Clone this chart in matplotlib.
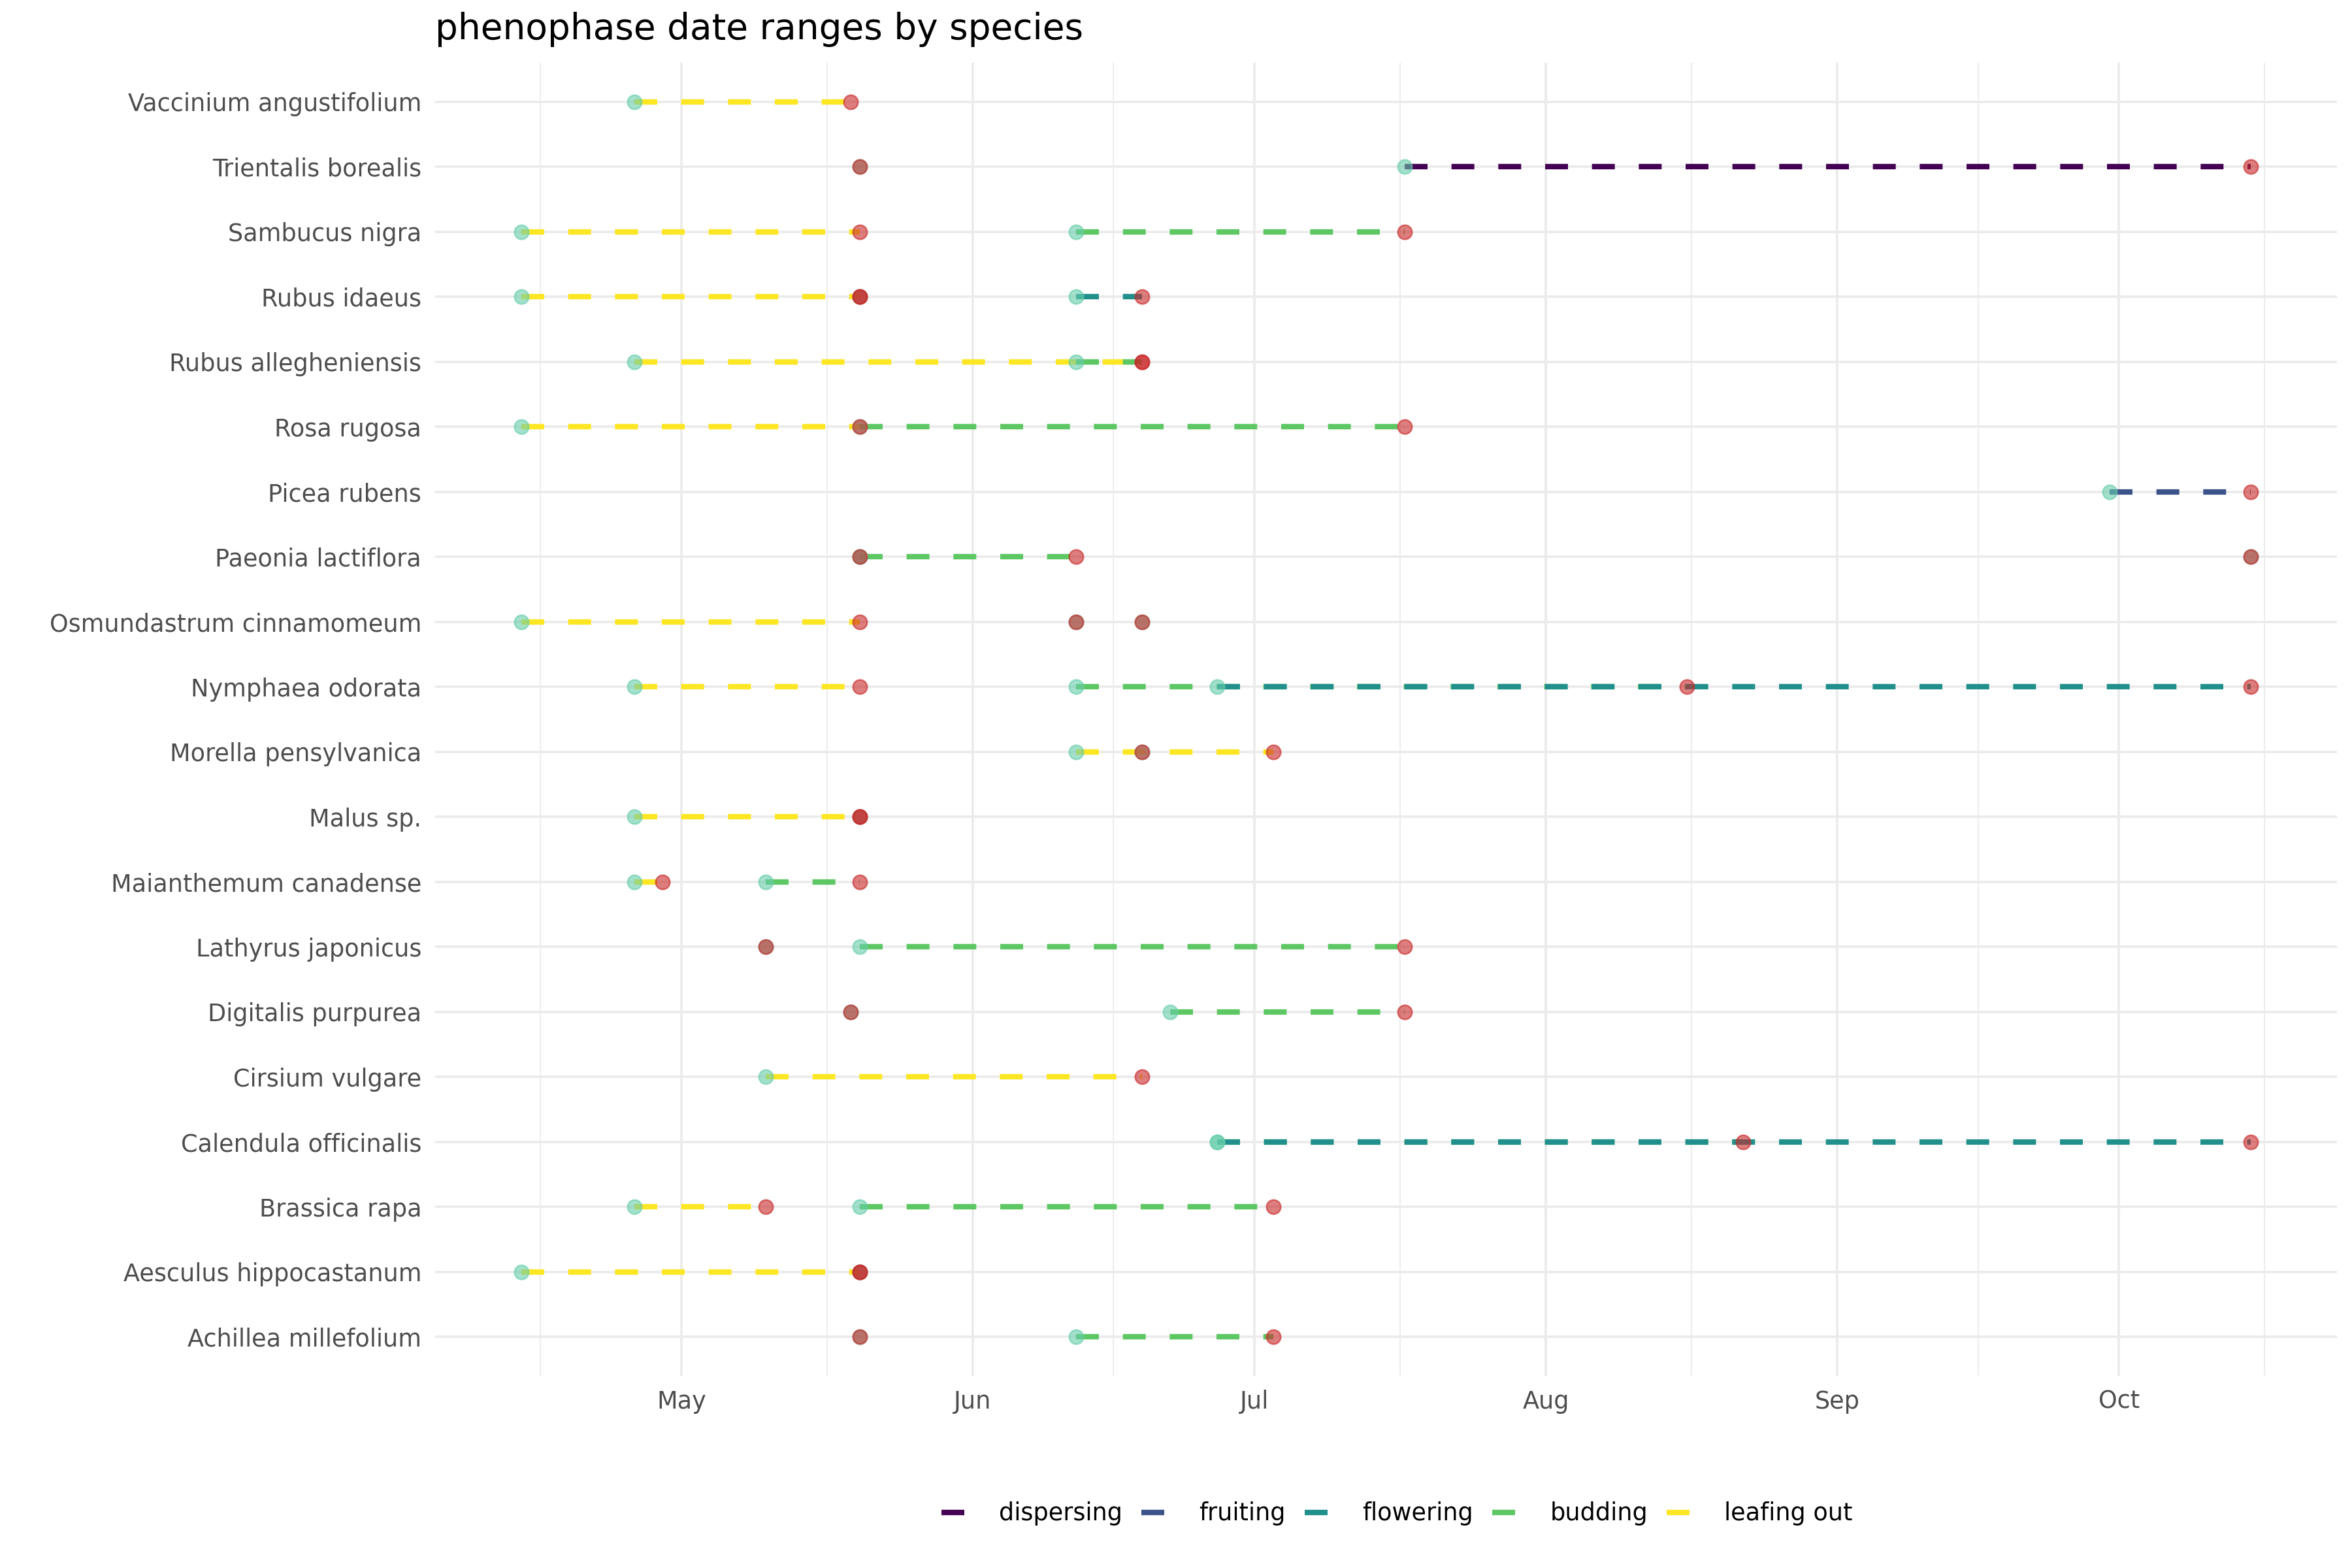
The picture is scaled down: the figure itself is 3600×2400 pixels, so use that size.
import datetime as dt
import numpy as np
import matplotlib
matplotlib.use("Agg")
import matplotlib.pyplot as plt
import matplotlib.dates as mdates
from matplotlib.lines import Line2D

# one record per phenophase observation
species = [
    "Achillea millefolium", "Achillea millefolium",
    "Aesculus hippocastanum", "Aesculus hippocastanum",
    "Brassica rapa", "Brassica rapa",
    "Calendula officinalis", "Calendula officinalis",
    "Cirsium vulgare",
    "Digitalis purpurea", "Digitalis purpurea",
    "Lathyrus japonicus", "Lathyrus japonicus",
    "Maianthemum canadense", "Maianthemum canadense",
    "Malus sp.", "Malus sp.",
    "Morella pensylvanica", "Morella pensylvanica",
    "Nymphaea odorata", "Nymphaea odorata", "Nymphaea odorata",
    "Osmundastrum cinnamomeum", "Osmundastrum cinnamomeum", "Osmundastrum cinnamomeum",
    "Paeonia lactiflora", "Paeonia lactiflora", "Paeonia lactiflora",
    "Picea rubens",
    "Rosa rugosa", "Rosa rugosa",
    "Rubus allegheniensis", "Rubus allegheniensis",
    "Rubus idaeus", "Rubus idaeus", "Rubus idaeus",
    "Sambucus nigra", "Sambucus nigra",
    "Trientalis borealis", "Trientalis borealis",
    "Vaccinium angustifolium",
]
phase = [
    "leafing out", "budding",
    "leafing out", "budding",
    "leafing out", "budding",
    "budding", "flowering",
    "leafing out",
    "leafing out", "budding",
    "leafing out", "budding",
    "leafing out", "budding",
    "leafing out", "budding",
    "leafing out", "budding",
    "leafing out", "budding", "flowering",
    "leafing out", "budding", "fruiting",
    "leafing out", "budding", "dispersing",
    "fruiting",
    "leafing out", "budding",
    "leafing out", "budding",
    "leafing out", "budding", "flowering",
    "leafing out", "budding",
    "leafing out", "dispersing",
    "leafing out",
]
start = [
    "05-20", "06-12",
    "04-14", "05-20",
    "04-26", "05-20",
    "06-27", "06-27",
    "05-10",
    "05-19", "06-22",
    "05-10", "05-20",
    "04-26", "05-10",
    "04-26", "05-20",
    "06-12", "06-19",
    "04-26", "06-12", "06-27",
    "04-14", "06-12", "06-19",
    "05-20", "05-20", "10-15",
    "09-30",
    "04-14", "05-20",
    "04-26", "06-12",
    "04-14", "05-20", "06-12",
    "04-14", "06-12",
    "05-20", "07-17",
    "04-26",
]
end = [
    "05-20", "07-03",
    "05-20", "05-20",
    "05-10", "07-03",
    "08-22", "10-15",
    "06-19",
    "05-19", "07-17",
    "05-10", "07-17",
    "04-29", "05-20",
    "05-20", "05-20",
    "07-03", "06-19",
    "05-20", "08-16", "10-15",
    "05-20", "06-12", "06-19",
    "05-20", "06-12", "10-15",
    "10-15",
    "05-20", "07-17",
    "06-19", "06-19",
    "05-20", "05-20", "06-19",
    "05-20", "07-17",
    "05-20", "10-15",
    "05-19",
]

phase_order = ["dispersing", "fruiting", "flowering", "budding", "leafing out"]
phase_colors = ["#440154", "#3B528B", "#21908C", "#5DC863", "#FDE725"]
draw_order = ["leafing out", "budding", "flowering", "fruiting", "dispersing"]

year = 2023
def to_num(s):
    m, d = s.split("-")
    return mdates.date2num(dt.date(year, int(m), int(d)))

x0 = np.array([to_num(s) for s in start])
x1 = np.array([to_num(s) for s in end])
names = sorted(set(species))
ypos = np.array([names.index(s) for s in species])
col = dict(zip(phase_order, phase_colors))

plt.rcParams["font.family"] = ["DejaVu Sans"]
plt.rcParams["lines.scale_dashes"] = False
fig = plt.figure(figsize=(12, 8), dpi=300)
ax = fig.add_axes([0.185, 0.1225, 0.8086, 0.8375])

grid_c = "#EBEBEB"
dash = (0, (8.4, 8.8))
for ph in draw_order:
    for i in range(len(species)):
        if phase[i] == ph:
            ax.plot([x0[i], x1[i]], [ypos[i], ypos[i]], color=col[ph], lw=2.0,
                    linestyle=dash, solid_capstyle="butt", dash_capstyle="butt", zorder=3)

ax.scatter(x0, ypos, s=5.2**2, color="#66CDAA", alpha=0.6, linewidths=0.6, zorder=4)
ax.scatter(x1, ypos, s=5.2**2, color="#C82828", alpha=0.6, linewidths=0.6, zorder=5)

lo, hi = x0.min(), x1.max()
pad = 0.05 * (hi - lo)
ax.set_xlim(lo - pad, hi + pad)
ax.set_ylim(-0.6, len(names) - 0.4)

months = [mdates.date2num(dt.date(year, m, 1)) for m in range(4, 12)]
ax.set_xticks(months[1:-1])
ax.set_xticklabels([dt.date(year, m, 1).strftime("%b") for m in range(5, 11)])
ax.set_xticks([(a + b) / 2 for a, b in zip(months[:-1], months[1:])], minor=True)
ax.set_yticks(range(len(names)))
ax.set_yticklabels(names)

ax.grid(True, which="major", color=grid_c, lw=0.9, zorder=0)
ax.grid(True, which="minor", axis="x", color=grid_c, lw=0.45, zorder=0)
ax.set_axisbelow(True)
for sp in ax.spines.values():
    sp.set_visible(False)
ax.tick_params(which="both", length=0, labelsize=8.8, labelcolor="#4D4D4D", pad=5)

fig.text(0.185, 0.975, "phenophase date ranges by species", fontsize=13.2,
         ha="left", va="baseline", color="black")

handles = [Line2D([0], [0], color=c, lw=2.0, linestyle=dash) for c in phase_colors]
fig.legend(handles, phase_order, loc="center", bbox_to_anchor=(0.594, 0.0346),
           ncol=5, frameon=False, fontsize=8.8, handlelength=0.95,
           handletextpad=1.45, columnspacing=0.8)

fig.savefig("out.png", dpi=300, facecolor="white")
